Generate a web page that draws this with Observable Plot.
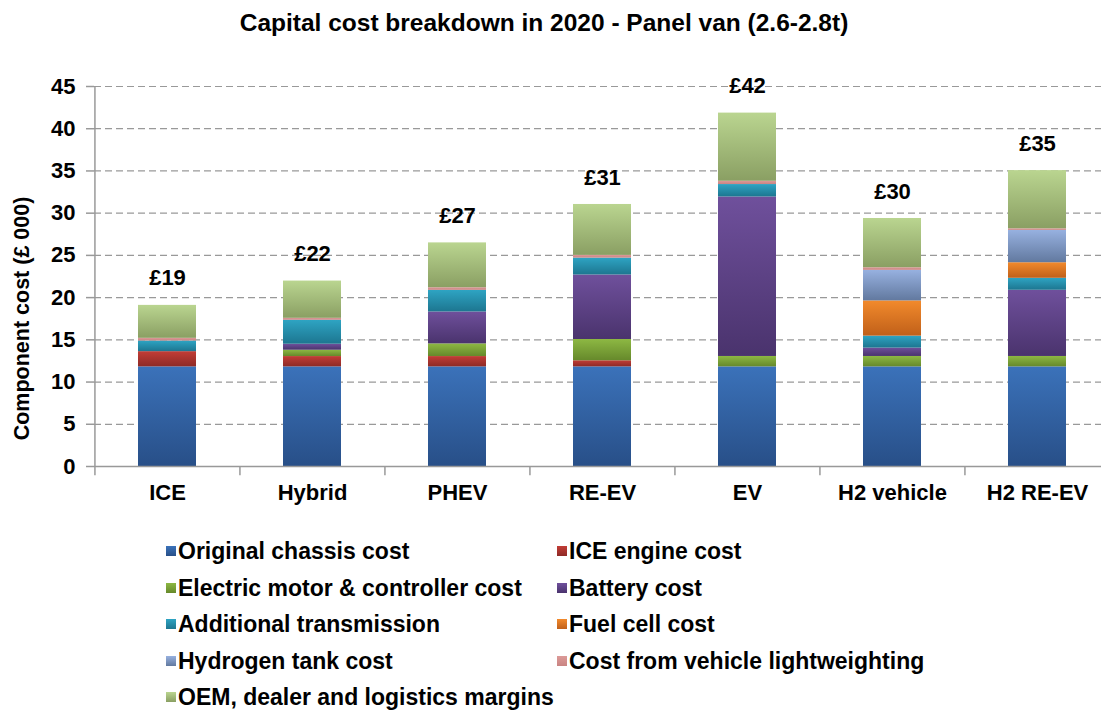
<!DOCTYPE html>
<html>
<head>
<meta charset="utf-8">
<script src="https://cdn.jsdelivr.net/npm/d3@7"></script>
<script src="https://cdn.jsdelivr.net/npm/@observablehq/plot@0.6"></script>
<style>
  html, body { margin: 0; padding: 0; background: #fff; }
  #wrap { position: relative; width: 1101px; height: 712px; overflow: hidden;
          font-family: "Liberation Sans", Arial, sans-serif; font-weight: bold; color: #000; }
  #title { position: absolute; left: 0; top: 0; width: 1088px; height: 45px; line-height: 45px;
           text-align: center; font-size: 24.5px; }
  #chart { position: absolute; left: 0; top: 45px; }
  .lg { position: absolute; font-size: 23px; line-height: 20px; white-space: nowrap; }
  .sw { position: absolute; width: 10px; height: 10px; }
</style>
</head>
<body>
<div id="wrap">
  <div id="title">Capital cost breakdown in 2020 - Panel van (2.6-2.8t)</div>
  <div id="chart"></div>
  <div id="legend"></div>
</div>
<script>
// ---- data ----
const vehicles = ["ICE", "Hybrid", "PHEV", "RE-EV", "EV", "H2 vehicle", "H2 RE-EV"];
const components = [
  "Original chassis cost",
  "ICE engine cost",
  "Electric motor & controller cost",
  "Battery cost",
  "Additional transmission",
  "Fuel cell cost",
  "Hydrogen tank cost",
  "Cost from vehicle lightweighting",
  "OEM, dealer and logistics margins"
];
const chassisCost      = [11.8, 11.8, 11.8, 11.8, 11.8, 11.8, 11.8];
const iceEngineCost    = [1.8, 1.22, 1.22, 0.72, 0, 0, 0];
const motorCost        = [0, 0.75, 1.5, 2.52, 1.23, 1.23, 1.23];
const batteryCost      = [0, 0.71, 3.78, 7.64, 18.89, 0.99, 7.84];
const transmissionCost = [1.26, 2.84, 2.56, 2.0, 1.47, 1.42, 1.42];
const fuelCellCost     = [0, 0, 0, 0, 0, 4.17, 1.84];
const hydrogenTankCost = [0, 0, 0, 0, 0, 3.62, 3.83];
const lightweightCost  = [0.32, 0.23, 0.31, 0.32, 0.39, 0.31, 0.19];
const marginsCost      = [3.9, 4.41, 5.31, 6.03, 8.07, 5.83, 6.89];
const totalLabels = ["£19", "£22", "£27", "£31", "£42", "£30", "£35"];
const yTicks = [0, 5, 10, 15, 20, 25, 30, 35, 40, 45];

// ---- styles ----
const topColors    = ["#3b72ba", "#c23d36", "#8db843", "#6f509c", "#2ea4c3", "#f28a2c", "#97b1e0", "#dc9a98", "#bad590"];
const bottomColors = ["#284f88", "#8e2a26", "#66892b", "#4a336d", "#1d7690", "#c0601a", "#62799f", "#c98482", "#8a9f63"];

const seriesValues = [chassisCost, iceEngineCost, motorCost, batteryCost, transmissionCost,
                      fuelCellCost, hydrogenTankCost, lightweightCost, marginsCost];

const rows = [];
vehicles.forEach((v, i) => {
  components.forEach((c, j) => {
    rows.push({vehicle: v, component: c, value: seriesValues[j][i]});
  });
});
const totals = vehicles.map((v, i) => ({
  vehicle: v,
  total: d3.sum(seriesValues, s => s[i]),
  label: totalLabels[i]
}));

const xLeft = 94, xRight = 1110;
const step = (xRight - xLeft) / vehicles.length;
const gridColor = "#999";

const plot = Plot.plot({
  width: 1101,
  height: 466,
  marginTop: 41,
  marginBottom: 45,
  marginLeft: xLeft,
  marginRight: 0,
  style: {fontFamily: "'Liberation Sans', Arial, sans-serif", fontSize: "22px", fontWeight: "bold", color: "#000", background: "transparent"},
  x: {domain: vehicles, range: [xLeft, xRight], paddingInner: 0.6, paddingOuter: 0.3, label: null},
  y: {domain: [0, 45], label: null},
  color: {domain: components, range: components.map((c, i) => `url(#grad${i})`)},
  marks: [
    Plot.gridY(yTicks.filter(t => t > 0), {stroke: gridColor, strokeOpacity: 1, strokeWidth: 1.2, strokeDasharray: "7,4"}),
    Plot.barY(rows, {x: "vehicle", y: "value", fill: "component"}),
    Plot.ruleY([0], {stroke: gridColor, strokeWidth: 1.5}),
    Plot.ruleX(vehicles, {x: d => d, dx: -step / 2, y1: -1.1, y2: (d, i) => i === 0 ? 45 : 0, stroke: gridColor, strokeWidth: 1.5}),
    Plot.axisY({ticks: yTicks, tickSize: 8, tickPadding: 11, stroke: gridColor, strokeWidth: 1.5, fontSize: 22, label: null}),
    Plot.axisX({tickSize: 0, tickPadding: 18, fontSize: 22, label: null}),
    Plot.text(["Component cost (£ 000)"], {frameAnchor: "left", textAnchor: "middle", dx: -72, dy: 42, rotate: -90, fontSize: 21.5, text: d => d}),
    Plot.text(totals, {x: "vehicle", y: "total", text: "label", dy: -27, fontSize: 22})
  ]
});

// gradients for bar segments
const ns = "http://www.w3.org/2000/svg";
const defs = document.createElementNS(ns, "defs");
components.forEach((c, i) => {
  const g = document.createElementNS(ns, "linearGradient");
  g.setAttribute("id", `grad${i}`);
  g.setAttribute("x1", "0"); g.setAttribute("y1", "0");
  g.setAttribute("x2", "0"); g.setAttribute("y2", "1");
  [[0, topColors[i]], [1, bottomColors[i]]].forEach(([o, col]) => {
    const s = document.createElementNS(ns, "stop");
    s.setAttribute("offset", o);
    s.setAttribute("stop-color", col);
    g.appendChild(s);
  });
  defs.appendChild(g);
});
plot.insertBefore(defs, plot.firstChild);
document.getElementById("chart").appendChild(plot);

// legend (two columns)
const legend = document.getElementById("legend");
const colX = [166, 557];
const rowY0 = 551, rowStep = 36.5;
components.forEach((c, i) => {
  const col = i % 2, row = Math.floor(i / 2);
  const cy = rowY0 + row * rowStep;
  const sw = document.createElement("div");
  sw.className = "sw";
  sw.style.left = colX[col] + "px";
  sw.style.top = (cy - 5) + "px";
  sw.style.background = `linear-gradient(${topColors[i]}, ${bottomColors[i]})`;
  legend.appendChild(sw);
  const t = document.createElement("div");
  t.className = "lg";
  t.style.left = (colX[col] + 12) + "px";
  t.style.top = (cy - 10) + "px";
  t.textContent = c;
  legend.appendChild(t);
});
</script>
</body>
</html>
